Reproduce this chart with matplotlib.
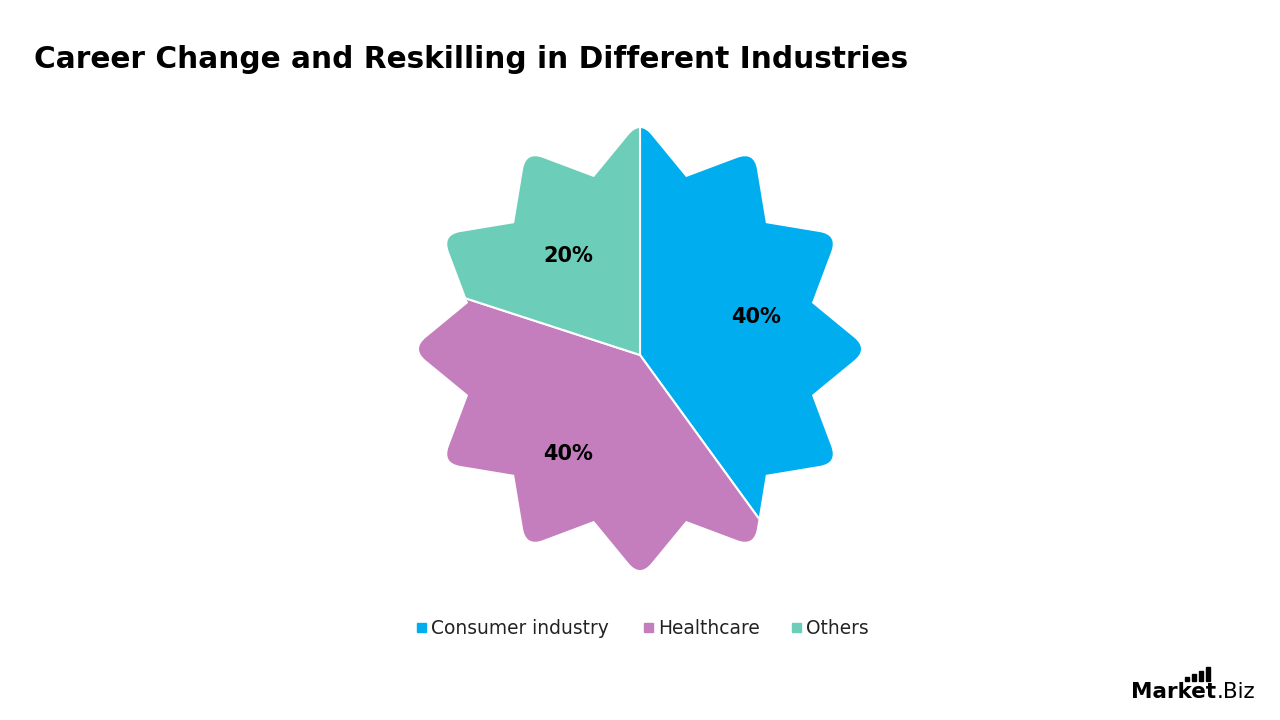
import numpy as np
import matplotlib.pyplot as plt
from matplotlib.patches import Wedge, PathPatch, Rectangle
from matplotlib.path import Path

# data
categories = ['Consumer industry', 'Healthcare', 'Others']
shares = [40, 40, 20]
colors = ['#00AEEF', '#C47DBD', '#6CCDB9']

fig = plt.figure(figsize=(12.8, 7.2), dpi=100)
ax = fig.add_axes([0, 0, 1, 1])
ax.set_xlim(0, 1280)
ax.set_ylim(720, 0)
ax.set_aspect('equal')
ax.axis('off')

# star outline (12 points) with rounded outer tips
sx, sy = 640, 349
r_out, r_in = 228, 178
n_pts = 12
d = 18
verts, codes = [], []
for i in range(n_pts):
    a_out = np.radians(90 - i * 30)
    a_in = np.radians(90 - i * 30 - 15)
    a_prev_in = np.radians(90 - i * 30 + 15)
    tip = np.array([sx + r_out * np.cos(a_out), sy - r_out * np.sin(a_out)])
    pin = np.array([sx + r_in * np.cos(a_prev_in), sy - r_in * np.sin(a_prev_in)])
    nin = np.array([sx + r_in * np.cos(a_in), sy - r_in * np.sin(a_in)])
    p1 = tip + (pin - tip) / np.linalg.norm(pin - tip) * d
    p2 = tip + (nin - tip) / np.linalg.norm(nin - tip) * d
    verts.append(p1)
    codes.append(Path.MOVETO if i == 0 else Path.LINETO)
    verts += [tip, p2]
    codes += [Path.CURVE3, Path.CURVE3]
    verts.append(nin)
    codes.append(Path.LINETO)
verts.append(verts[0])
codes.append(Path.CLOSEPOLY)
star = PathPatch(Path(verts, codes), facecolor='none', edgecolor='none')
ax.add_patch(star)

# wedges clipped to the star (y axis inverted -> angles run clockwise on screen)
cx, cy = 640, 355
start = -90
for val, col in zip(shares, colors):
    span = val / 100 * 360
    w = Wedge((cx, cy), 300, start, start + span, facecolor=col,
              edgecolor='white', linewidth=1.5)
    ax.add_patch(w)
    w.set_clip_path(star)
    mid = np.radians(start + span / 2)
    ax.text(cx + 122 * np.cos(mid), cy + 122 * np.sin(mid), f'{val}%',
            ha='center', va='center', fontsize=15, fontweight='bold',
            color='black')
    start += span

ax.text(34, 59, 'Career Change and Reskilling in Different Industries',
        fontsize=21.3, fontweight='bold', ha='left', va='center')

# legend
leg_x = [417, 644, 792]
for x, lab, col in zip(leg_x, categories, colors):
    ax.add_patch(Rectangle((x, 623), 9, 9, color=col))
    ax.text(x + 14, 628, lab, fontsize=13.4, va='center', ha='left',
            color='#222222')

# logo
t = ax.text(1131, 692, 'Market', fontsize=15.5, fontweight='bold',
            va='center', ha='left')
fig.canvas.draw()
bb = t.get_window_extent()
ax.text(bb.x1 + 1, 692, '.Biz', fontsize=15.5, va='center', ha='left')
for i, h in enumerate([4, 7, 10, 14]):
    ax.add_patch(Rectangle((1185 + i * 7, 681 - h), 3.5, h, color='black'))

fig.savefig('out.png', dpi=100)
